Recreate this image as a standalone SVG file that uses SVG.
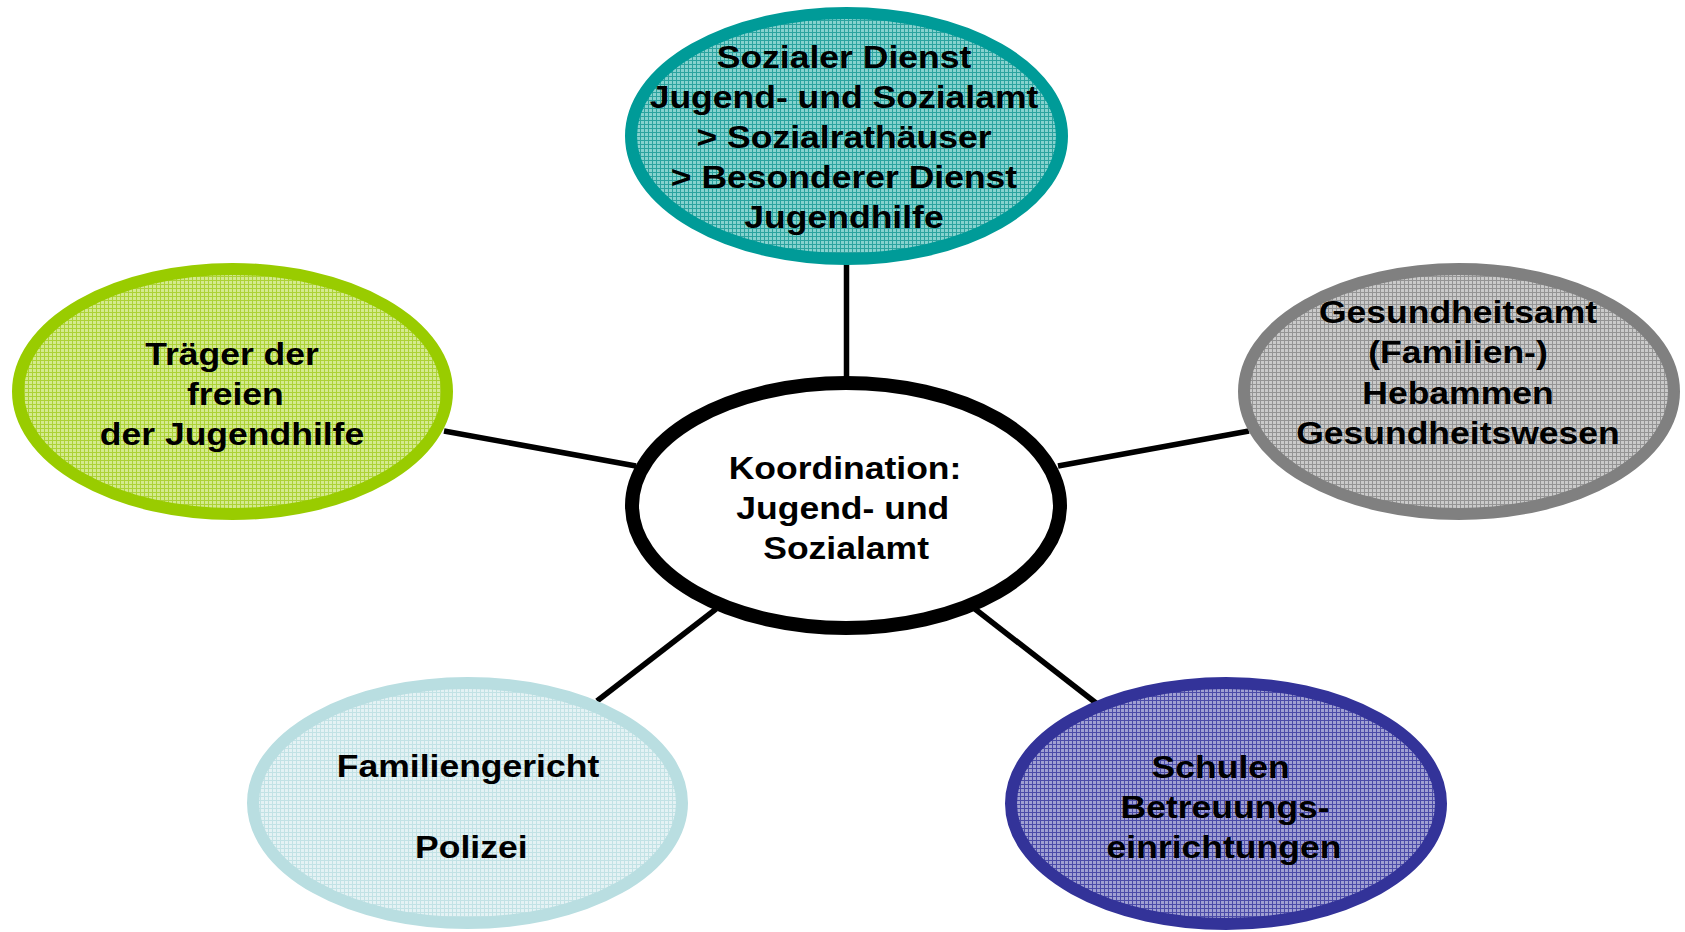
<svg xmlns="http://www.w3.org/2000/svg" width="1685" height="932" viewBox="0 0 1685 932">
<style>
.t{font-family:"Liberation Sans",Arial,sans-serif;font-weight:bold;font-size:32px;fill:#000;text-anchor:middle}
.c{stroke:#000;stroke-width:5.5;fill:none}
.n{stroke-width:12}
</style>
<defs>
<pattern id="pTeal" patternUnits="userSpaceOnUse" width="4" height="4"><rect width="4" height="4" fill="#86d2ce"/><path d="M0.5 0V4M0 0.5H4" stroke="#2ba39f" stroke-width="1"/></pattern>
<pattern id="pGreen" patternUnits="userSpaceOnUse" width="4" height="4"><rect width="4" height="4" fill="#d4ea8e"/><path d="M0.5 0V4M0 0.5H4" stroke="#acd236" stroke-width="1"/></pattern>
<pattern id="pGray" patternUnits="userSpaceOnUse" width="4" height="4"><rect width="4" height="4" fill="#cacaca"/><path d="M0.5 0V4M0 0.5H4" stroke="#949494" stroke-width="1"/></pattern>
<pattern id="pLight" patternUnits="userSpaceOnUse" width="4" height="4"><rect width="4" height="4" fill="#e4f2f4"/><path d="M0.5 0V4M0 0.5H4" stroke="#c2e2e5" stroke-width="1"/></pattern>
<pattern id="pBlue" patternUnits="userSpaceOnUse" width="4" height="4"><rect width="4" height="4" fill="#a0a0d2"/><path d="M0.5 0V4M0 0.5H4" stroke="#4b4ba8" stroke-width="1"/></pattern>
</defs>
<rect width="1685" height="932" fill="#fff"/>
<g id="connectors">
<line class="c" x1="846.5" y1="255" x2="846.5" y2="390"/>
<line class="c" x1="444" y1="431" x2="636" y2="466"/>
<line class="c" x1="1058" y1="466" x2="1249" y2="431"/>
<line class="c" x1="597" y1="701" x2="716" y2="609"/>
<line class="c" x1="975" y1="609" x2="1096" y2="703"/>
</g>
<g id="sozialer-dienst">
<ellipse class="n" cx="846.5" cy="136" rx="215.5" ry="123" fill="url(#pTeal)" stroke="#009b98"/>
<g transform="translate(844 0) scale(1.11 1)"><text class="t"><tspan x="0" y="68">Sozialer Dienst</tspan><tspan x="0" y="108">Jugend- und Sozialamt</tspan><tspan x="0" y="148">&gt; Sozialrathäuser</tspan><tspan x="0" y="188">&gt; Besonderer Dienst</tspan><tspan x="0" y="228">Jugendhilfe</tspan></text></g>
</g>
<g id="traeger">
<ellipse class="n" cx="232.5" cy="391.5" rx="214.5" ry="122.5" fill="url(#pGreen)" stroke="#99cc00"/>
<g transform="translate(232 0) scale(1.11 1)"><text class="t"><tspan x="0" y="365">Träger der</tspan><tspan x="3" y="405">freien</tspan><tspan x="0" y="445">der Jugendhilfe</tspan></text></g>
</g>
<g id="gesundheitsamt">
<ellipse class="n" cx="1459" cy="391.5" rx="215" ry="122.5" fill="url(#pGray)" stroke="#808080"/>
<g transform="translate(1458 0) scale(1.11 1)"><text class="t"><tspan x="0" y="323">Gesundheitsamt</tspan><tspan x="0" y="363">(Familien-)</tspan><tspan x="0" y="404">Hebammen</tspan><tspan x="0" y="444">Gesundheitswesen</tspan></text></g>
</g>
<g id="familiengericht">
<ellipse class="n" cx="467.5" cy="803" rx="214.5" ry="120" fill="url(#pLight)" stroke="#b9dee1"/>
<g transform="translate(468 0) scale(1.11 1)"><text class="t"><tspan x="0" y="777">Familiengericht</tspan><tspan x="3" y="858">Polizei</tspan></text></g>
</g>
<g id="schulen">
<ellipse class="n" cx="1226" cy="803.5" rx="215" ry="120.5" fill="url(#pBlue)" stroke="#333399"/>
<g transform="translate(1224 0) scale(1.11 1)"><text class="t"><tspan x="-3" y="778">Schulen</tspan><tspan x="1" y="818">Betreuungs-</tspan><tspan x="0" y="858">einrichtungen</tspan></text></g>
</g>
<g id="koordination">
<ellipse cx="846" cy="505.5" rx="214" ry="122.5" fill="#fff" stroke="#000" stroke-width="14"/>
<g transform="translate(845 0) scale(1.11 1)"><text class="t"><tspan x="0" y="479">Koordination:</tspan><tspan x="-2" y="519">Jugend- und</tspan><tspan x="1" y="559">Sozialamt</tspan></text></g>
</g>
</svg>
